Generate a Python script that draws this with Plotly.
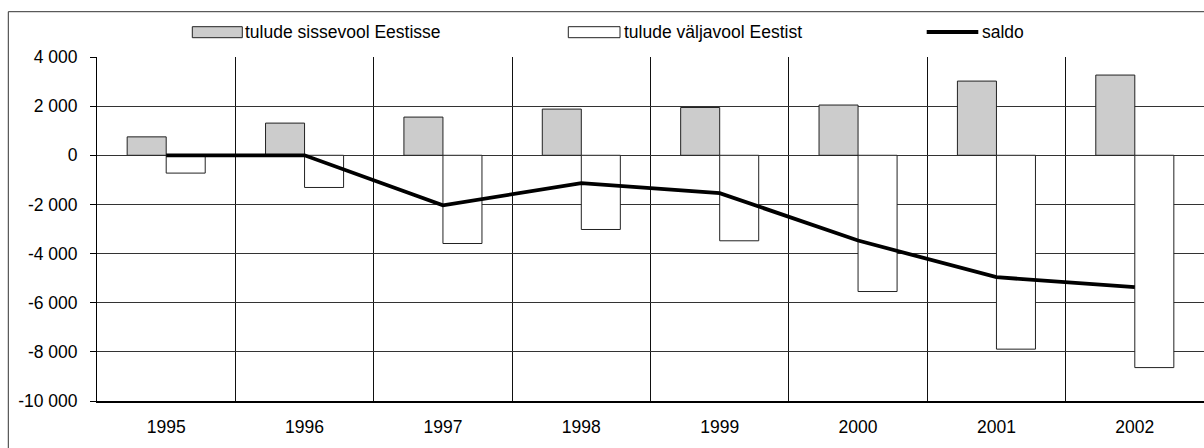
import plotly.graph_objects as go

years = ["1995", "1996", "1997", "1998", "1999", "2000", "2001", "2002"]
inflow = [750, 1310, 1555, 1880, 1945, 2045, 3020, 3265]
outflow = [-725, -1310, -3590, -3020, -3480, -5545, -7890, -8640]
saldo = [0, 0, -2040, -1130, -1540, -3470, -4960, -5370]

y_tickvals = [4000, 2000, 0, -2000, -4000, -6000, -8000, -10000]
y_ticktext = ["4 000", "2 000", "0", "-2 000", "-4 000", "-6 000", "-8 000", "-10 000"]

names = ["tulude sissevool Eestisse", "tulude väljavool Eestist", "saldo"]

FONT = "Liberation Sans, Arial, sans-serif"
FS = 17.5

fig = go.Figure()
fig.add_trace(go.Bar(x=years, y=inflow, name=names[0],
                     marker=dict(color="#cccccc", line=dict(color="#222222", width=1)),
                     showlegend=False))
fig.add_trace(go.Bar(x=years, y=outflow, name=names[1],
                     marker=dict(color="#ffffff", line=dict(color="#222222", width=1)),
                     showlegend=False))
fig.add_trace(go.Scatter(x=years, y=saldo, name=names[2], mode="lines",
                         line=dict(color="#000000", width=3.8),
                         showlegend=False))

W, H = 1204, 448
L, R, T, B = 97, 0, 57, 47
pw, ph = W - L - R, H - T - B

def px(x):  # page x -> paper
    return (x - L) / pw

def py(y):  # page y -> paper
    return (H - B - y) / ph

shapes = [
    dict(type="rect", xref="paper", yref="paper",
         x0=px(8.3), x1=1.05, y0=-0.3, y1=py(11.7),
         line=dict(color="#333333", width=1), fillcolor="rgba(0,0,0,0)", layer="below"),
    dict(type="rect", xref="paper", yref="paper",
         x0=px(192.3), x1=px(242.3), y0=py(37.7), y1=py(26.7),
         line=dict(color="#222222", width=1), fillcolor="#cccccc"),
    dict(type="rect", xref="paper", yref="paper",
         x0=px(568.3), x1=px(620), y0=py(37.7), y1=py(26.7),
         line=dict(color="#222222", width=1), fillcolor="#ffffff"),
    dict(type="line", xref="paper", yref="paper",
         x0=px(926.7), x1=px(978.3), y0=py(32), y1=py(32),
         line=dict(color="#000000", width=4)),
]

annotations = [
    dict(text=names[0], xref="paper", yref="paper", x=px(243.0), y=py(32),
         xanchor="left", yanchor="middle", showarrow=False),
    dict(text=names[1], xref="paper", yref="paper", x=px(622.0), y=py(32),
         xanchor="left", yanchor="middle", showarrow=False),
    dict(text=names[2], xref="paper", yref="paper", x=px(980.0), y=py(32),
         xanchor="left", yanchor="middle", showarrow=False),
]

fig.update_layout(
    width=W, height=H,
    margin=dict(l=L, r=R, t=T, b=B, pad=0, autoexpand=False),
    paper_bgcolor="#ffffff", plot_bgcolor="#ffffff",
    font=dict(family=FONT, size=FS, color="#000000"),
    barmode="group", bargap=0.436, bargroupgap=0,
    showlegend=False,
    shapes=shapes, annotations=annotations,
)
fig.update_xaxes(
    type="category", tickson="boundaries",
    showgrid=True, gridcolor="#111111", gridwidth=1,
    showline=True, linecolor="#000000", linewidth=1.5,
    ticks="", ticklabelstandoff=9,
    range=[-0.5, 7.5],
)
fig.update_yaxes(
    range=[-10000, 4000],
    tickvals=y_tickvals, ticktext=y_ticktext,
    showgrid=True, gridcolor="#333333", gridwidth=1,
    zeroline=False,
    showline=True, linecolor="#000000", linewidth=1,
    ticks="outside", ticklen=6, tickcolor="#000000",
    ticklabelstandoff=9,
)

fig.write_html(
    "out.html",
    config={"displayModeBar": False},
    post_script="document.body.style.margin='0';document.body.style.overflow='hidden';",
)
